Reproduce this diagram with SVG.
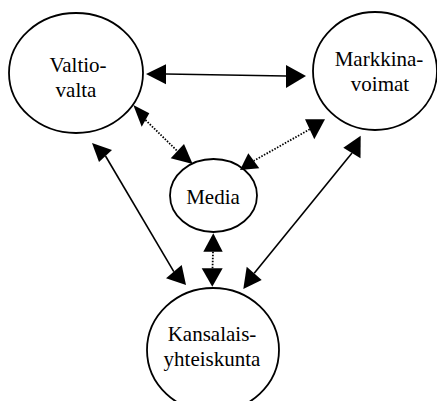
<svg xmlns="http://www.w3.org/2000/svg" width="437" height="401" viewBox="0 0 437 401">
  <style>
    .node { fill: #ffffff; stroke: #000000; stroke-width: 1.8; }
    .label { font-size: 21px; fill: #000000; text-anchor: middle; }
    .solid { stroke: #000000; stroke-width: 1.6; fill: none; }
    .dotted { stroke: #000000; stroke-width: 1.8; stroke-dasharray: 1.5 1.5; fill: none; }
    .head { fill: #000000; stroke: none; }
  </style>
  <rect width="437" height="401" fill="#ffffff"/>

  <g id="valtiovalta">
    <ellipse class="node" cx="76" cy="73" rx="67" ry="60"/>
    <text class="label" x="78" y="72" style="font-family:'Liberation Serif', serif">Valtio-</text>
    <text class="label" x="76" y="97" style="font-family:'Liberation Serif', serif">valta</text>
  </g>

  <g id="markkinavoimat">
    <ellipse class="node" cx="375" cy="71" rx="62" ry="59"/>
    <text class="label" x="379" y="66" style="font-family:'Liberation Serif', serif">Markkina-</text>
    <text class="label" x="380" y="91" style="font-family:'Liberation Serif', serif">voimat</text>
  </g>

  <g id="media">
    <ellipse class="node" cx="213.5" cy="195.5" rx="43.5" ry="36.5"/>
    <text class="label" x="213" y="204" style="font-family:'Liberation Serif', serif">Media</text>
  </g>

  <g id="kansalaisyhteiskunta">
    <ellipse class="node" cx="213" cy="350" rx="66" ry="62"/>
    <text class="label" x="212" y="341" style="font-family:'Liberation Serif', serif">Kansalais-</text>
    <text class="label" x="212" y="366" style="font-family:'Liberation Serif', serif">yhteiskunta</text>
  </g>

  <g id="connectors">
    <!-- Valtiovalta <-> Markkinavoimat -->
    <line class="solid" x1="166" y1="74" x2="286" y2="76"/>
    <polygon class="head" points="146,74 166,64.3 166,84.3"/>
    <polygon class="head" points="306,76 286,65 286,88"/>

    <!-- Valtiovalta <-> Media -->
    <line class="dotted" x1="145.5" y1="120" x2="177.3" y2="151"/>
    <polygon class="head" points="133.3,105 149.3,113.3 141.7,126.7"/>
    <polygon class="head" points="192.7,164 184,144 170.7,158.3"/>

    <!-- Markkinavoimat <-> Media -->
    <line class="dotted" x1="309.7" y1="129.3" x2="253.8" y2="160.8"/>
    <polygon class="head" points="325,119.3 305,119.3 314.3,139.3"/>
    <polygon class="head" points="240,170 248.3,153.3 259.3,168.3"/>

    <!-- Valtiovalta <-> Kansalaisyhteiskunta -->
    <line class="solid" x1="105.5" y1="156" x2="173.8" y2="271.7"/>
    <polygon class="head" points="92,143 112,150 99,162"/>
    <polygon class="head" points="186,285 181.7,265 166,278.3"/>

    <!-- Markkinavoimat <-> Kansalaisyhteiskunta -->
    <line class="solid" x1="352" y1="153" x2="254.2" y2="273.3"/>
    <polygon class="head" points="360.7,135.7 343.3,147.7 360.5,158.3"/>
    <polygon class="head" points="243.3,289 246.7,266.7 261.7,280"/>

    <!-- Media <-> Kansalaisyhteiskunta -->
    <line class="dotted" x1="213" y1="251.7" x2="212.5" y2="268.3"/>
    <polygon class="head" points="213.3,233.3 203.3,251.7 222.7,251.7"/>
    <polygon class="head" points="212.3,286.7 201.7,268.3 222.7,268.3"/>
  </g>
</svg>
